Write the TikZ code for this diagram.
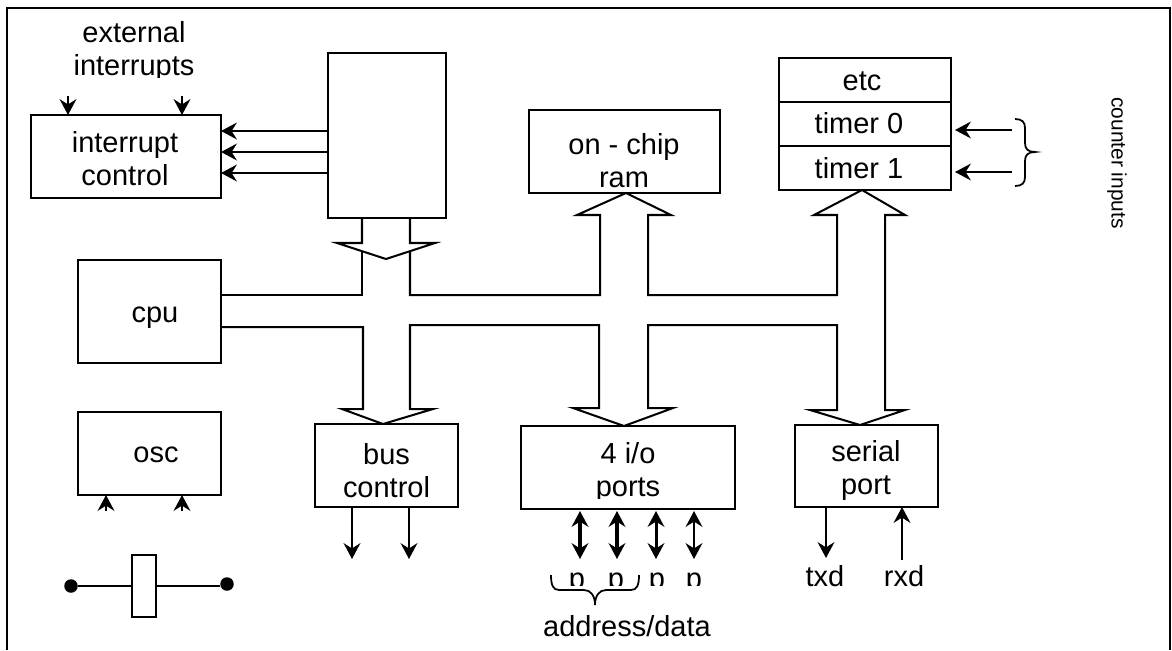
\documentclass[tikz,border=0pt]{standalone}
\usepackage{fontspec}
\setmainfont{Liberation Sans}
\usetikzlibrary{arrows.meta}
\tikzset{
  blk/.style={draw, line width=1.15pt, inner sep=0pt, outer sep=0pt},
  boxsize/.style 2 args={minimum width=#1*0.02cm, minimum height=#2*0.02cm},
  lbl/.style={align=center, anchor=base, inner sep=0pt, font=\fontsize{16.5}{18.7}\selectfont},
  sig/.style={-{Stealth[length=9pt,width=9.5pt,inset=3pt]}, line width=1.45pt},
  sigb/.style={{Stealth[length=9pt,width=9.5pt,inset=3pt]}-{Stealth[length=9pt,width=9.5pt,inset=3pt]}, line width=#1},
  bus/.style={line width=1.15pt, miter limit=20},
  dot/.style={circle, fill, inner sep=0pt, minimum size=0.27cm},
  brc/.style={line width=1pt}
}
\begin{document}
\begin{tikzpicture}[x=0.02cm, y=-0.02cm]
    \useasboundingbox (0,0) rectangle (1172,650);
    \draw [line width=1.3pt] (7,650) -- (7,8) -- (1170,8) -- (1170,650);

    \node [blk, boxsize={190}{83}] (irq) at (126,156.5) {};
    \node [blk, boxsize={118.5}{165}] (regs) at (387,135.5) {};
    \node [blk, boxsize={143}{103}] (cpu) at (149.5,311.5) {};
    \node [blk, boxsize={143}{83}] (osc) at (149.5,453.5) {};
    \node [blk, boxsize={191}{83}] (ram) at (624.5,151.5) {};
    \node [blk, boxsize={172}{44}] (etc) at (865,80) {};
    \node [blk, boxsize={172}{44}] (tmra) at (865,124) {};
    \node [blk, boxsize={172}{44}] (tmrb) at (865,168) {};
    \node [blk, boxsize={143}{83}] (busc) at (386.5,465.5) {};
    \node [blk, boxsize={214}{83}] (ports) at (628,467.5) {};
    \node [blk, boxsize={143}{82}] (serial) at (866.5,466) {};
    \node [blk, boxsize={24}{62}] (xtal) at (144,586) {};

    \begin{scope}
      \clip (0,0) rectangle (1172,77);
      \node [lbl] (exttxt) at (134,75) {external\\interrupts};
    \end{scope}
    \node [lbl] (irqtxt) at (125,185) {interrupt\\control};
    \node [lbl] (cputxt) at (155,322) {cpu};
    \node [lbl] (osctxt) at (156,462.7) {osc};
    \node [lbl] (ramtxt) at (624,187) {on - chip\\ram};
    \node [lbl] (etctxt) at (862,90.7) {etc};
    \node [lbl] (tmratxt) at (859,133) {timer 0};
    \node [lbl] (tmrbtxt) at (859,178) {timer 1};
    \node [lbl] (busctxt) at (386.5,497) {bus\\control};
    \begin{scope}
      \clip (500,440) rectangle (760,498);
      \node [lbl] (portstxt) at (628,496) {4 i/o\\ports};
    \end{scope}
    \node [lbl] (serialtxt) at (866,494.3) {serial\\port};
    \begin{scope}
      \clip (560,560) rectangle (720,585);
      \node [lbl] (pa) at (577,588) {p};
      \node [lbl] (pb) at (616,588) {p};
      \node [lbl] (pc) at (657,588) {p};
      \node [lbl] (pd) at (694,588) {p};
    \end{scope}
    \node [lbl] (addr) at (627,636) {address/data};
    \node [lbl] (txd) at (825,586.7) {txd};
    \node [lbl] (rxd) at (904,586.7) {rxd};
    \node [lbl, font=\fontsize{11.9}{14}\selectfont, anchor=center, rotate=-90] (cnt) at (1117,163) {counter inputs};

    \node [dot] (dota) at (71,586) {};
    \node [dot] (dotb) at (227,584) {};
    \draw [line width=1.15pt] (dota) -- (xtal.west |- dota);
    \draw [line width=1.15pt] (xtal.east |- 0,586) -- (dotb.west |- 0,586);

    \draw [sig] (68,96) -- (irq.north -| 68,0);
    \draw [sig] (182,96) -- (irq.north -| 182,0);
    \draw [sig] (regs.west |- 0,131) -- (irq.east |- 0,131);
    \draw [sig] (regs.west |- 0,152) -- (irq.east |- 0,152);
    \draw [sig] (regs.west |- 0,173) -- (irq.east |- 0,173);
    \draw [sig] (106,511) -- (osc.south -| 106,0);
    \draw [sig] (182,511) -- (osc.south -| 182,0);
    \draw [sig] (1012,130) -- (955,130);
    \draw [sig] (1012,172) -- (955,172);
    \draw [sig] (busc.south -| 352,0) -- (352,559);
    \draw [sig] (busc.south -| 409,0) -- (409,559);
    \draw [sig] (serial.south -| 826,0) -- (826,558);
    \draw [sig] (902,560) -- (serial.south -| 902,0);
    \draw [sigb=2.3pt] (580,511) -- (580,559);
    \draw [sigb=2pt] (617,511) -- (617,559);
    \draw [sigb=1.7pt] (656,511) -- (656,559);
    \draw [sigb=1.45pt] (694,511) -- (694,559);

    \draw [brc] (1015,119) .. controls (1022,119) and (1025,122) .. (1025,128) -- (1025,143)
      .. controls (1025,149) and (1028,152) .. (1035,152) .. controls (1028,152) and (1025,155) .. (1025,161)
      -- (1025,177) .. controls (1025,183) and (1022,186) .. (1015,186);
    \draw [brc] (551,575) .. controls (551,585) and (553,590) .. (559,590) -- (584,590)
      .. controls (591,590) and (595,596) .. (595,605) .. controls (595,596) and (599,590) .. (606,590)
      -- (631,590) .. controls (637,590) and (639,585) .. (639,575);

    \draw [bus] (regs.south -| 362,0) -- (362,243) -- (337,243) -- (386,259) -- (435,243) -- (410,243) -- (regs.south -| 410,0);
    \draw [bus] (cpu.east |- 0,295) -- (362,295) -- (362,251);
    \draw [bus] (410,251) -- (410,295) -- (600,295) -- (600,215) -- (577,215) -- (ram.south -| 626,0) -- (671,215) -- (648,215)
      -- (648,295) -- (837,295) -- (837,215) -- (814,215) -- (tmrb.south -| 862,0) -- (905,215) -- (885,215)
      -- (885,410) -- (905,410) -- (serial.north -| 860,0) -- (810,410) -- (837,410) -- (837,325)
      -- (648,325) -- (648,408) -- (673,408) -- (ports.north -| 624,0) -- (573,408) -- (599,408) -- (599,325)
      -- (410,325) -- (410,409) -- (433,409) -- (busc.north -| 383,0) -- (342,409) -- (363,409) -- (363,327) -- (cpu.east |- 0,327);
\end{tikzpicture}
\end{document}
